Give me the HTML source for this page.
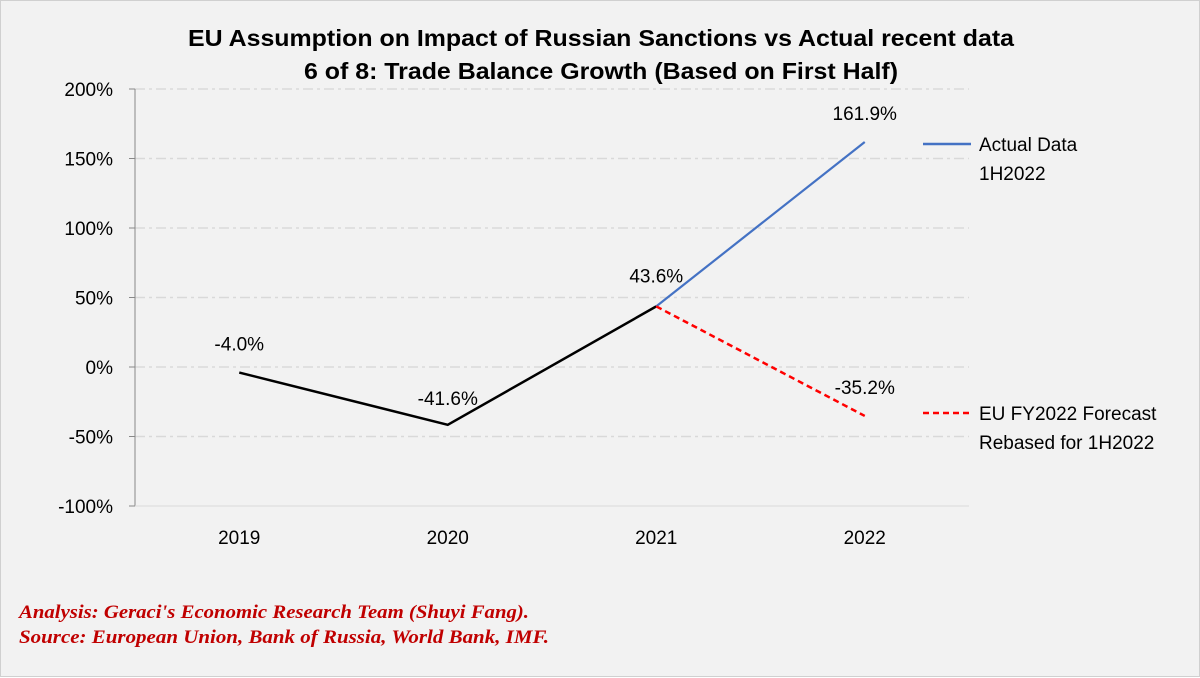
<!DOCTYPE html>
<html><head><meta charset="utf-8"><style>
body{margin:0;background:#fff}
#wrap{position:relative;width:1200px;height:677px;background:#f2f2f2;box-sizing:border-box;border:1px solid #d0d0d0;font-family:"Liberation Sans",sans-serif}
</style></head><body>
<div id="wrap">
<svg id="chart" width="1200" height="677" style="position:absolute;left:0;top:0">
<text x="187" y="45" textLength="826" lengthAdjust="spacingAndGlyphs" font-size="23" font-weight="bold" fill="#000">EU Assumption on Impact of Russian Sanctions vs Actual recent data</text>
<text x="303" y="78" textLength="594" lengthAdjust="spacingAndGlyphs" font-size="23" font-weight="bold" fill="#000">6 of 8: Trade Balance Growth (Based on First Half)</text>
<g id="grid"></g><g id="axes"></g><g id="series"></g><g id="labels"></g>
<line x1="922" y1="143" x2="970" y2="143" stroke="#4472c4" stroke-width="2.5"/>
<text x="978" y="150" font-size="19" fill="#000"><tspan x="978">Actual Data</tspan><tspan x="978" dy="29">1H2022</tspan></text>
<line x1="922" y1="412" x2="970" y2="412" stroke="#ff0000" stroke-width="2.5" stroke-dasharray="6,4"/>
<text x="978" y="419" font-size="19" fill="#000"><tspan x="978">EU FY2022 Forecast</tspan><tspan x="978" dy="29">Rebased for 1H2022</tspan></text>
<text x="18" y="617" textLength="510" lengthAdjust="spacingAndGlyphs" font-size="19" font-style="italic" font-weight="bold" fill="#c00000" font-family="Liberation Serif">Analysis: Geraci's Economic Research Team (Shuyi Fang).</text>
<text x="18" y="642" textLength="530" lengthAdjust="spacingAndGlyphs" font-size="19" font-style="italic" font-weight="bold" fill="#c00000" font-family="Liberation Serif">Source: European Union, Bank of Russia, World Bank, IMF.</text>
</svg>
</div>
<script>
const categories=["2019","2020","2021","2022"];
const historical=[-4.0,-41.6,43.6];
const actual2022=161.9;
const forecast2022=-35.2;
const yTicks=[-100,-50,0,50,100,150,200];
const NS="http://www.w3.org/2000/svg";
const L=134,R=968,T=88,B=505,yMin=-100,yMax=200;
const y=v=>B-(v-yMin)/(yMax-yMin)*(B-T);
const bw=(R-L)/categories.length;
const x=i=>L+bw*(i+0.5);
function mk(tag,parent,attrs){const e=document.createElementNS(NS,tag);for(const k in attrs)e.setAttribute(k,attrs[k]);document.getElementById(parent).appendChild(e);return e;}
yTicks.forEach(t=>{
 if(t!==yMin){const g=mk('line','grid',{x1:L,x2:R,y1:y(t),y2:y(t),stroke:'#d9d9d9','stroke-width':1.5,'stroke-dasharray':'10,4,3,4'});
 
 }
 const tk=mk('line','axes',{x1:L-6,x2:L,y1:y(t),y2:y(t),stroke:'#888'});
 
 
 const lb=mk('text','axes',{x:L-22,y:y(t)+7,'text-anchor':'end','font-size':19,fill:'#000'});
 lb.textContent=t+'%';
 
 
});
const ya=mk('line','axes',{x1:L,x2:L,y1:T,y2:B,stroke:'#888'});


const xa=mk('line','axes',{x1:L,x2:R,y1:B,y2:B,stroke:'#d9d9d9'});


categories.forEach((c,i)=>{
 const lb=mk('text','axes',{x:x(i),y:B+38,'text-anchor':'middle','font-size':19,fill:'#000'});
 lb.textContent=c;
 
 
});
const hp=mk('polyline','series',{points:historical.map((v,i)=>x(i)+','+y(v)).join(' '),fill:'none',stroke:'#000','stroke-width':2.5});


const li=historical.length-1;
const ap=mk('line','series',{x1:x(li),y1:y(historical[li]),x2:x(3),y2:y(actual2022),stroke:'#4472c4','stroke-width':2.2});


const fp=mk('line','series',{x1:x(li),y1:y(historical[li]),x2:x(3),y2:y(forecast2022),stroke:'#ff0000','stroke-width':2.5,'stroke-dasharray':'6,4'});


const lab=[[0,historical[0],-22],[1,historical[1],-20],[2,historical[2],-24],[3,actual2022,-22],[3,forecast2022,-22]];
lab.forEach(([i,v,dy])=>{
 const t=mk('text','labels',{x:x(i),y:y(v)+dy,'text-anchor':'middle','font-size':19,fill:'#000'});
 t.textContent=v.toFixed(1)+'%';
 
 
});
</script>
</body></html>
